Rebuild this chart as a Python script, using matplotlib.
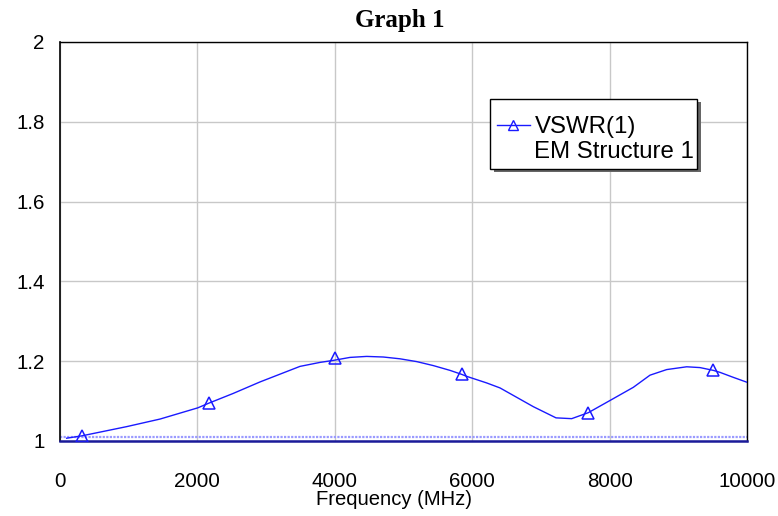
import numpy as np
import matplotlib
matplotlib.use('Agg')
import matplotlib.pyplot as plt
from matplotlib.lines import Line2D
from matplotlib.patches import Rectangle

# VSWR curve (frequency in MHz)
freq = [97, 320, 970, 1456, 2004, 2169, 2518, 2911, 3493, 3785, 3978, 4221,
        4464, 4706, 4949, 5192, 5434, 5677, 5847, 5920, 6211, 6405, 6890,
        7220, 7448, 7690, 7990, 8345, 8588, 8831, 9122, 9316, 9510, 9607,
        9801, 9995]
vswr = [1.007, 1.013, 1.036, 1.055, 1.083, 1.095, 1.119, 1.148, 1.187, 1.197,
        1.202, 1.2095, 1.212, 1.2105, 1.206, 1.199, 1.189, 1.177, 1.167, 1.162,
        1.1455, 1.133, 1.086, 1.058, 1.056, 1.071, 1.10, 1.1345, 1.165, 1.179,
        1.186, 1.184, 1.177, 1.172, 1.1595, 1.1475]
# marker positions
mark_freq = [320, 2169, 4003, 5847, 7690, 9510]
mark_vswr = [1.013, 1.095, 1.207, 1.167, 1.071, 1.178]
# dotted reference line near the bottom
ref_level = 1.01

xticks = [0, 2000, 4000, 6000, 8000, 10000]
yticks = [1, 1.2, 1.4, 1.6, 1.8, 2]
ytick_labels = ['1', '1.2', '1.4', '1.6', '1.8', '2']

blue = '#1a1aff'
sans = 'Liberation Sans'
W, H = 778, 516

fig = plt.figure(figsize=(7.78, 5.16), dpi=100)
ax = fig.add_axes([60/W, 1-441/H, 687/W, 399/H])

ax.axhline(ref_level, color='#9a9aff', lw=1.6, ls=(0, (1, 0.6)), zorder=2)
ax.plot(freq, vswr, color=blue, lw=1.0, zorder=3)
ax.plot(mark_freq, mark_vswr, ls='none', marker='^', ms=9, mfc='none',
        mec=blue, mew=1.1, zorder=4)

ax.set_xlim(0, 10000)
ax.set_ylim(1, 2)
ax.set_xticks(xticks)
ax.set_yticks(yticks)
ax.set_yticklabels(ytick_labels)
ax.grid(True, color='#c8c8c8', lw=1.0)
ax.set_axisbelow(True)
ax.tick_params(axis='both', length=0, labelsize=14.8)
ax.tick_params(axis='x', pad=22)
ax.tick_params(axis='y', pad=11)
for lab in ax.get_xticklabels() + ax.get_yticklabels():
    lab.set_fontfamily(sans)

for s in ['top', 'right', 'left']:
    ax.spines[s].set_color('black')
    ax.spines[s].set_linewidth(1.0)
ax.spines['left'].set_linewidth(1.2)
ax.spines['bottom'].set_color('#1a1a99')
ax.spines['bottom'].set_linewidth(1.8)

ax.set_xlabel('Frequency (MHz)', fontsize=14.6, family=sans, labelpad=1)
ax.xaxis.set_label_coords((394-60)/687, -0.122)

fig.text(400/W, 1-20/H, 'Graph 1', ha='center', va='center',
         fontsize=18, fontweight='bold', family='Liberation Serif')

# legend box with a drop shadow
shadow = Rectangle(((490+4)/W, 1-(169+3)/H), 207/W, 70/H, transform=fig.transFigure,
                   fc='#666666', ec='none', zorder=5, clip_on=False)
box = Rectangle((490/W, 1-169/H), 207/W, 70/H, transform=fig.transFigure,
                fc='white', ec='black', lw=1.0, zorder=5.1, clip_on=False)
ax.add_patch(shadow)
ax.add_patch(box)

h1 = Line2D([], [], color=blue, lw=1.0, marker='^', ms=7, mfc='none', mec=blue)
h2 = Line2D([], [], color='none')
leg = ax.legend([h1, h2], ['VSWR(1)', 'EM Structure 1'], loc='upper left',
                bbox_to_anchor=(490/W, 1-109/H), bbox_transform=fig.transFigure,
                prop={'family': sans, 'size': 17.3}, frameon=False,
                handlelength=1.35, handletextpad=0.2, labelspacing=0.13,
                borderpad=0.3, borderaxespad=0)
leg.set_zorder(6)

fig.savefig('out.png', dpi=100)
